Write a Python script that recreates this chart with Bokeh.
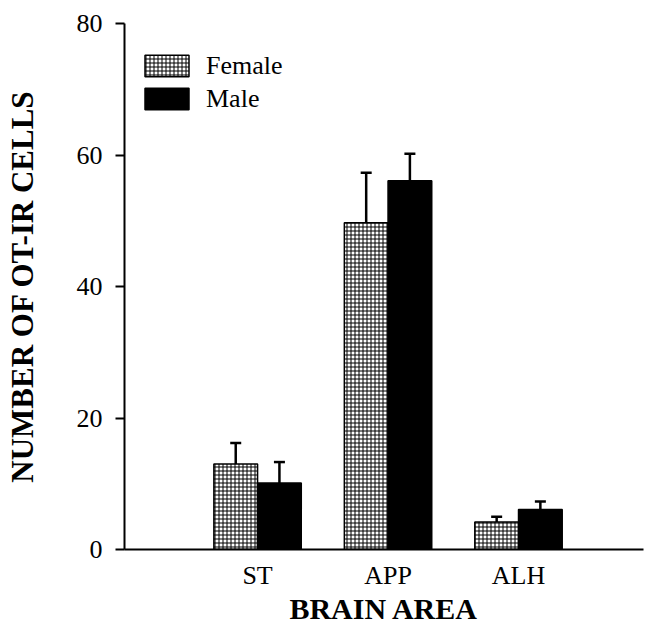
import numpy as np
from bokeh.plotting import figure
from bokeh.models import (ColumnDataSource, Range1d, FixedTicker, Whisker, TeeHead)
from bokeh.embed import file_html
from bokeh.resources import INLINE

areas = ["ST", "APP", "ALH"]
female = [13.0, 49.7, 4.2]
female_err = [3.2, 7.6, 0.8]
male = [10.1, 56.1, 6.1]
male_err = [3.2, 4.1, 1.2]
y_ticks = [0, 20, 40, 60, 80]

pos = np.arange(1, len(areas) + 1, dtype=float)
bw = 0.335

src_f = ColumnDataSource(dict(x=pos - bw / 2, top=female,
                              up=np.array(female) + np.array(female_err)))
src_m = ColumnDataSource(dict(x=pos + bw / 2, top=male,
                              up=np.array(male) + np.array(male_err)))

FONT = "Liberation Serif"

p = figure(width=645, height=627, output_backend="svg", toolbar_location=None,
           x_range=Range1d(-0.02, 3.958), y_range=Range1d(0, 80),
           min_border_left=124, min_border_right=2, min_border_top=23,
           min_border_bottom=77)
p.outline_line_color = None
p.xgrid.visible = False
p.ygrid.visible = False
p.background_fill_color = "white"
p.border_fill_color = "white"

p.vbar(x="x", top="top", bottom=0, width=bw, source=src_f,
       fill_color="white", line_color="black", line_width=1.5,
       hatch_pattern="+", hatch_color="black", hatch_scale=4, hatch_weight=1,
       legend_label="Female")
p.vbar(x="x", top="top", bottom=0, width=bw, source=src_m,
       fill_color="black", line_color="black", line_width=1.5,
       legend_label="Male")

for src in (src_f, src_m):
    w = Whisker(base="x", lower="top", upper="up", source=src, dimension="height",
                line_color="black", line_width=2.5, lower_head=None,
                upper_head=TeeHead(size=11, line_width=2.5, line_color="black"))
    p.add_layout(w)

# y axis
ya = p.yaxis[0]
ya.ticker = FixedTicker(ticks=y_ticks)
ya.minor_tick_line_color = None
ya.major_tick_in = 0
ya.major_tick_out = 9
ya.major_tick_line_width = 2
ya.axis_line_width = 2
ya.major_label_text_font = FONT
ya.major_label_text_font_size = "26px"
ya.major_label_text_color = "black"
ya.major_label_standoff = 13
ya.axis_label = "NUMBER OF OT-IR CELLS"
ya.axis_label_text_font = FONT
ya.axis_label_text_font_size = "31px"
ya.axis_label_text_font_style = "bold"
ya.axis_label_text_color = "black"
ya.axis_label_standoff = 34

# x axis
xa = p.xaxis[0]
xa.ticker = FixedTicker(ticks=list(pos))
xa.major_label_overrides = {float(v): a for v, a in zip(pos, areas)}
xa.minor_tick_line_color = None
xa.major_tick_in = 0
xa.major_tick_out = 0
xa.axis_line_width = 2
xa.major_label_text_font = FONT
xa.major_label_text_font_size = "26px"
xa.major_label_text_color = "black"
xa.major_label_standoff = 11
xa.axis_label = "BRAIN AREA"
xa.axis_label_text_font = FONT
xa.axis_label_text_font_size = "30px"
xa.axis_label_text_font_style = "bold"
xa.axis_label_text_color = "black"
xa.axis_label_standoff = -1

lg = p.legend[0]
lg.border_line_color = None
lg.background_fill_alpha = 0
lg.margin = 0
lg.padding = 0
lg.spacing = 2
lg.glyph_width = 55
lg.glyph_height = 27
lg.label_height = 31
lg.label_standoff = 12
lg.label_text_font = FONT
lg.label_text_font_size = "26px"
lg.label_text_color = "black"
lg.location = (15, 435)

open("out.html", "w").write(file_html(p, INLINE))
